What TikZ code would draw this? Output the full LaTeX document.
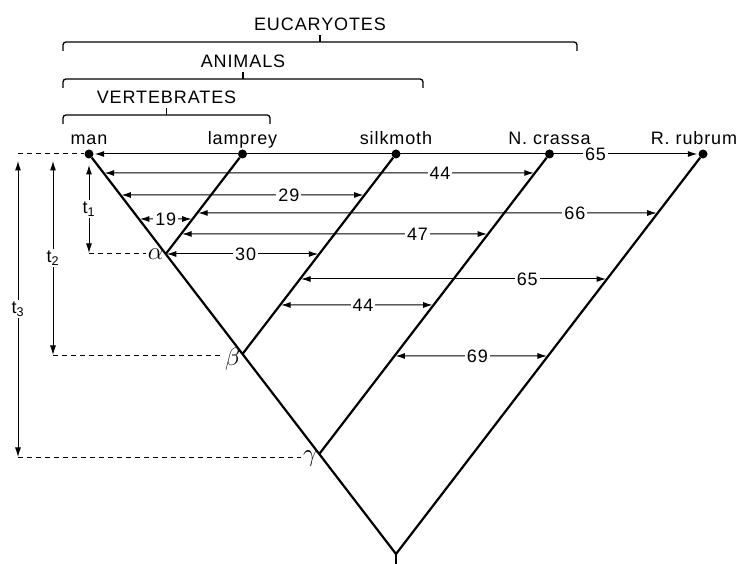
\documentclass[tikz,border=0pt]{standalone}
\usepackage{fontspec}
\setmainfont{Liberation Sans}[LetterSpace=5]
\usetikzlibrary{positioning, calc, arrows.meta}
\tikzset{
  x=1pt, y=1pt,
  >={Latex[length=9.5pt, width=6pt]}, % filled arrow heads
  node distance=153.5pt, % spacing of the tips along the top row
  txt/.style={font=\fontsize{18}{21}\selectfont},
  greek/.style={font=\fontsize{25}{28}\selectfont, inner sep=2pt},
  tip/.style={circle, fill, inner sep=0pt, minimum size=9pt},
  tipname/.style={txt, anchor=base, label distance=5pt},
  branch/.style={line width=2.2pt, line join=miter},
  dist/.style={<->, line width=1pt, shorten <=1pt, shorten >=1pt},
  num/.style={txt, fill=white, inner sep=2pt},
  guide/.style={line width=1pt, dash pattern=on 5pt off 4pt},
  clade/.style={line width=1.3pt, rounded corners=3pt},
}

\begin{document}
\begin{tikzpicture}
  \useasboundingbox (0,0) rectangle (748,564);

  % tips of the tree
  \node[tip, label={[tipname]90:man}] (man) at (89,410) {};
  \node[tip, right of=man, label={[tipname]90:lamprey}] (lamprey) {};
  \node[tip, right of=lamprey, label={[tipname]90:silkmoth}] (silkmoth) {};
  \node[tip, right of=silkmoth, label={[tipname]90:N. crassa}] (ncrassa) {};
  \node[tip, right of=ncrassa, label={[tipname, xshift=-9pt]90:R. rubrum}] (rrubrum) {};

  % branch points
  \coordinate (root) at (396,10);
  \coordinate (stem) at (396,0);
  \coordinate (alpha) at ($(man)!.25!(root)$);
  \coordinate (beta) at ($(man)!.5!(root)$);
  \coordinate (gamma) at ($(man)!.75!(root)$);

  \draw[branch] (man) -- (root) -- (rrubrum);
  \draw[branch] (root) -- (stem);
  \draw[branch] (lamprey) -- (alpha);
  \draw[branch] (silkmoth) -- (beta);
  \draw[branch] (ncrassa) -- (gamma);

  % ends of the distance arrows on the branches
  \foreach \name/\tipn/\basen/\t in {
      L2a/man/root/.0475, L2b/ncrassa/gamma/.0633,
      L3a/man/root/.1025, L3b/silkmoth/beta/.205,
      L4a/lamprey/alpha/.59, L4b/rrubrum/root/.1475,
      L5a/man/root/.1625, L5b/lamprey/alpha/.65,
      L6a/lamprey/alpha/.8, L6b/ncrassa/gamma/.2667,
      L7b/silkmoth/beta/.5,
      L8a/silkmoth/beta/.625, L8b/rrubrum/root/.3125,
      L9a/silkmoth/beta/.755, L9b/ncrassa/gamma/.5033,
      L10a/ncrassa/gamma/.6733, L10b/rrubrum/root/.505}
    \coordinate (\name) at ($(\tipn)!\t!(\basen)$);

  % distances
  \draw[dist] (man) -- node[num, pos=.83] {65} (rrubrum);
  \draw[dist] (L2a) -- node[num, pos=.78] {44} (L2b);
  \draw[dist] (L3a) -- node[num, pos=.69] {29} (L3b);
  \draw[dist] (L4a) -- node[num, pos=.82] {66} (L4b);
  \draw[dist] (L5a) -- node[num, pos=.5] {19} (L5b);
  \draw[dist] (L6a) -- node[num, pos=.77] {47} (L6b);
  \draw[dist] (alpha) -- node[num, pos=.52] {30} (L7b);
  \draw[dist] (L8a) -- node[num, pos=.74] {65} (L8b);
  \draw[dist] (L9a) -- node[num, pos=.54] {44} (L9b);
  \draw[dist] (L10a) -- node[num, pos=.54] {69} (L10b);

  % time axis
  \coordinate (t1top) at (89,400);
  \coordinate (t1bot) at (89,310);
  \coordinate (t2top) at (53,404);
  \coordinate (t2bot) at (53,208);
  \coordinate (t3top) at (18,404);
  \coordinate (t3bot) at (18,106);
  \draw[dist] (t1top) -- node[num] {t\textsubscript{1}} (t1bot);
  \draw[dist] (t2top) -- node[num] {t\textsubscript{2}} (t2bot);
  \draw[dist] (t3top) -- node[num] {t\textsubscript{3}} (t3bot);

  \node[greek, left=0pt of alpha] (alab) {$\alpha$};
  \node[greek, anchor=east] (blab) at ([yshift=-5pt]beta) {$\beta$};
  \node[greek, anchor=east] (glab) at ([yshift=-5pt]gamma) {$\gamma$};

  \draw[guide] (t3top |- man) -- (man);
  \draw[guide] (t1bot) -- (t1bot -| alab.west);
  \draw[guide] (t2bot) -- (t2bot -| blab.west);
  \draw[guide] (t3bot) -- (t3bot -| glab.west);

  % groups
  \foreach \grp/\right/\ht in {VERTEBRATES/270/449, ANIMALS/423/485, EUCARYOTES/577/522} {
    \draw[clade] (63,\ht-9) -- (63,\ht) -- (\right,\ht) -- (\right,\ht-9);
    \draw[clade] ({(63+\right)/2},\ht) -- ++(0,7) node[txt, above=0pt] {\grp};
  }
\end{tikzpicture}
\end{document}
